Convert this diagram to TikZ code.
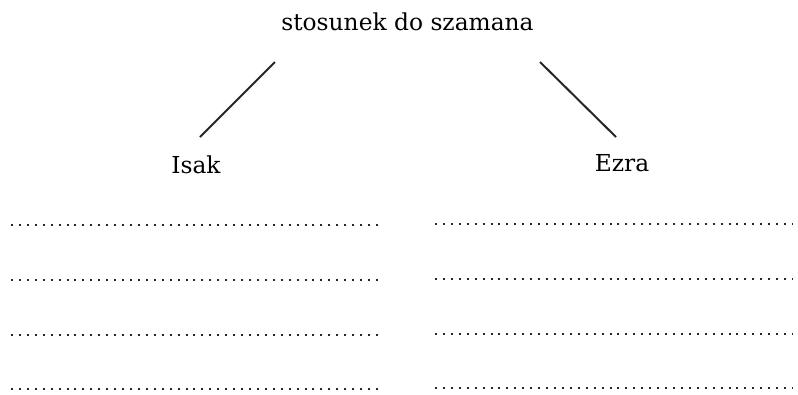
\documentclass[tikz,border=0pt]{standalone}
\usepackage{fontspec}
\setmainfont{DejaVu Serif}
\begin{document}
\begin{tikzpicture}[x=0.75pt,y=-0.75pt,
  lbl/.style={anchor=base,inner sep=0pt,font=\fontsize{17.5pt}{20pt}\selectfont},
  branch/.style={line width=1.5pt,draw=black!85},
  dotrow/.style={line width=1.6pt,draw=black!85,dash pattern=on 1.5pt off 4.45pt}]
\useasboundingbox (0,0) rectangle (798,394);
\node[lbl] (title) at (407.5,30) {stosunek do szamana};
\node[lbl] (isak) at (196,173) {Isak};
\node[lbl] (ezra) at (622,171) {Ezra};
\coordinate (l1) at (275,62);
\coordinate (l2) at (200,137);
\coordinate (r1) at (540,62);
\coordinate (r2) at (616,137);
\draw[branch] (l1) -- (l2);
\draw[branch] (r1) -- (r2);
\foreach \y [count=\i] in {225,280,335,389}{
  \coordinate (a\i) at (11,\y);
  \coordinate (b\i) at (382,\y);
  \draw[dotrow] (a\i) -- (b\i);
}
\foreach \y [count=\i] in {224,279,334,388}{
  \coordinate (c\i) at (435,\y);
  \coordinate (d\i) at (793,\y);
  \draw[dotrow] (c\i) -- (d\i);
}
\end{tikzpicture}
\end{document}
